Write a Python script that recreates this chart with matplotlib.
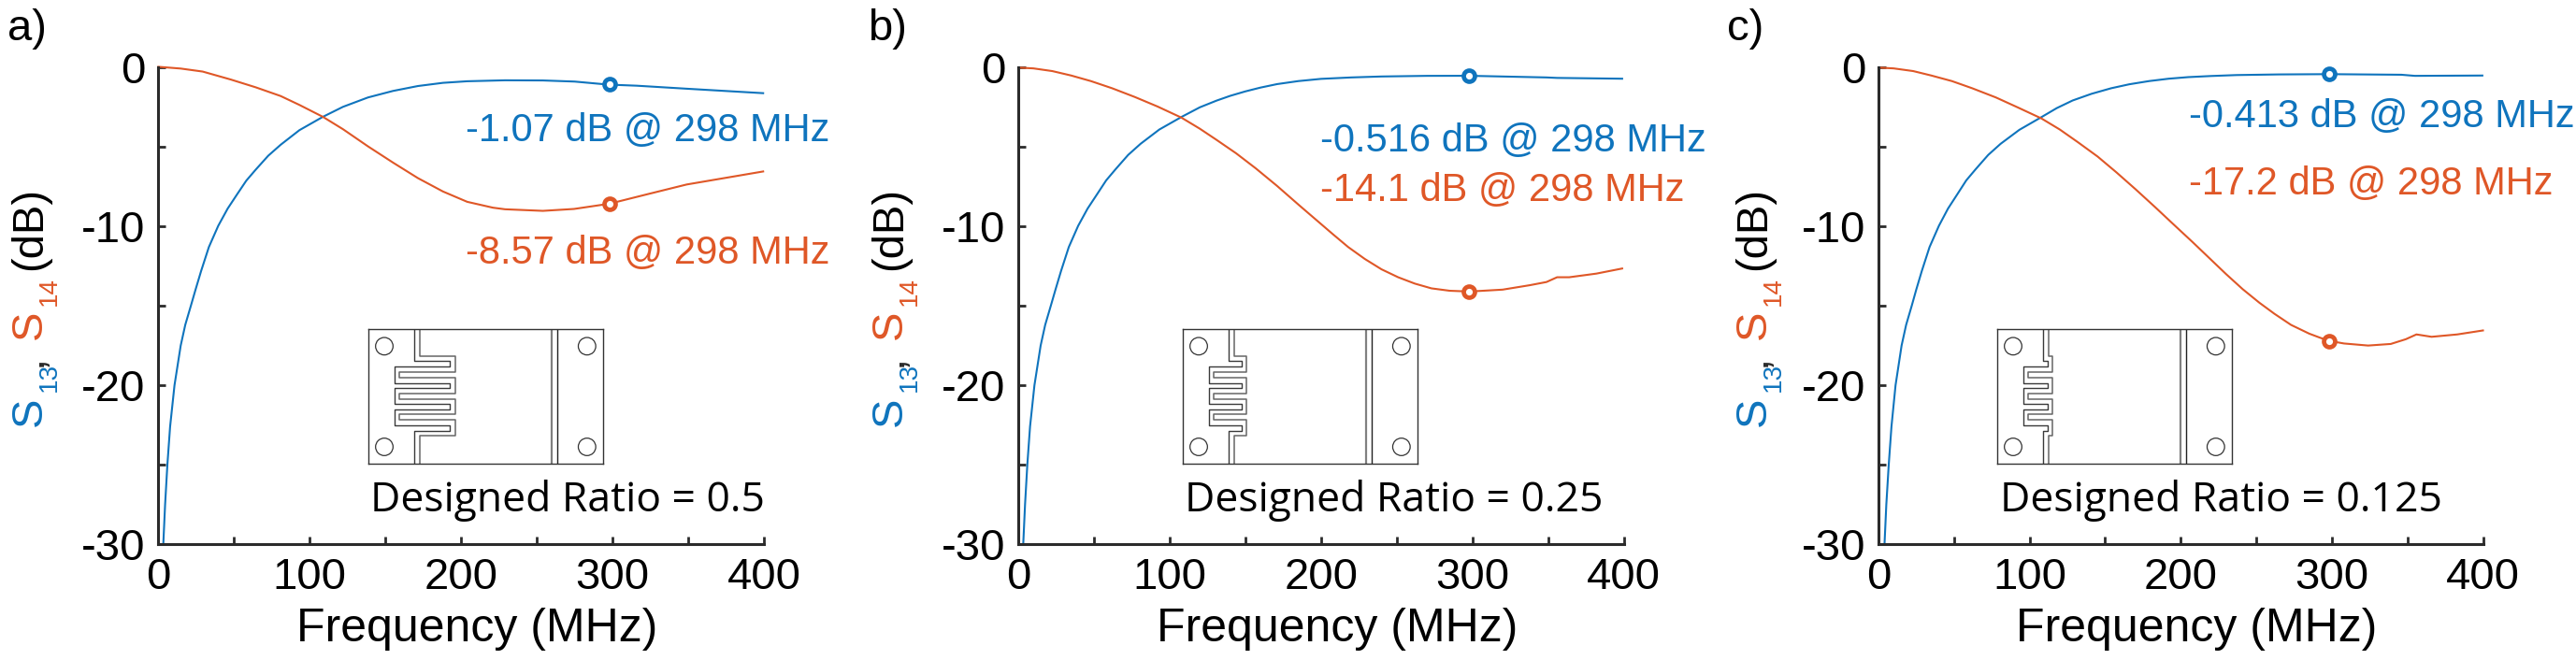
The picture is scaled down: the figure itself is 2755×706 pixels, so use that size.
import numpy as np
import matplotlib
matplotlib.use('Agg')
import matplotlib.pyplot as plt
from matplotlib.patches import Circle

W, H = 2755, 706
BLUE = '#0F74BD'
ORANGE = '#DF5727'
DARK = '#2b2b2b'

# values (MHz, dB)
f13_a = [3.3, 4.5, 6, 7.8, 10.7, 14.8, 17.8, 21.5, 24.6, 28.3, 33.4, 39.6, 45.8, 51.9, 58.1, 64.3, 72.6, 80.8, 93.2, 108.7, 122, 138.5, 155, 171.5, 188, 204, 229, 254, 275, 297, 316, 349, 399.5]
s13_a = [-30, -27.5, -25, -22.6, -20, -17.5, -16.2, -15, -13.98, -12.8, -11.3, -9.96, -8.88, -8.0, -7.12, -6.43, -5.55, -4.86, -3.94, -3.1, -2.47, -1.88, -1.47, -1.16, -0.96, -0.86, -0.8, -0.81, -0.88, -1.07, -1.14, -1.33, -1.61]
f14_a = [0, 14.8, 29.3, 47.8, 64.3, 80.8, 93.2, 108.7, 122, 138.5, 155, 171.5, 188, 204, 221, 229, 254, 274.6, 298, 324, 349, 399.5]
s14_a = [0.05, -0.06, -0.25, -0.75, -1.24, -1.79, -2.35, -3.1, -3.88, -4.96, -5.98, -6.96, -7.8, -8.45, -8.82, -8.92, -9.02, -8.9, -8.57, -7.95, -7.36, -6.54]

f13_b = [3.3, 4.5, 6, 7.8, 10.7, 14.8, 17.8, 21.5, 24.6, 28.3, 33.4, 39.6, 45.8, 51.9, 58.1, 64.3, 72.6, 80.8, 93.2, 108, 120, 131, 140, 150, 160, 171, 185, 200, 220, 240, 270, 298, 349, 356, 399]
s13_b = [-30, -27.5, -25, -22.6, -20, -17.5, -16.2, -15, -13.98, -12.8, -11.3, -9.96, -8.88, -8.0, -7.1, -6.4, -5.5, -4.8, -3.9, -3.1, -2.5, -2.08, -1.78, -1.5, -1.26, -1.04, -0.85, -0.71, -0.62, -0.56, -0.52, -0.516, -0.62, -0.65, -0.7]
f14_b = [0, 10, 22.5, 35, 48, 62, 77, 92, 107.8, 120, 131, 144, 157, 171, 186, 197, 208, 218, 229, 240, 251, 262, 273, 285, 298, 320, 338, 349, 356, 364, 382, 399]
s14_b = [0, -0.05, -0.22, -0.5, -0.85, -1.3, -1.85, -2.45, -3.15, -3.85, -4.55, -5.4, -6.35, -7.45, -8.7, -9.6, -10.5, -11.3, -12.05, -12.7, -13.2, -13.6, -13.9, -14.05, -14.1, -13.98, -13.7, -13.5, -13.2, -13.2, -12.97, -12.65]

f13_c = [4, 5.2, 6.8, 8.6, 11.3, 15.3, 18.3, 22, 25, 28.7, 33.8, 40, 46, 52, 58.1, 64.3, 72.6, 80.8, 93.2, 107.8, 118, 128.5, 141, 154, 166, 179, 192, 205, 220, 237, 265, 298, 346, 355, 399.6]
s13_c = [-30, -27.5, -25, -22.6, -20, -17.5, -16.2, -15, -13.98, -12.8, -11.3, -9.96, -8.88, -8.0, -7.1, -6.4, -5.5, -4.8, -3.92, -3.12, -2.55, -2.07, -1.65, -1.3, -1.05, -0.85, -0.7, -0.6, -0.53, -0.47, -0.43, -0.413, -0.45, -0.52, -0.5]
f14_c = [0, 10, 23, 35, 48.6, 62, 77.7, 92, 107.8, 120, 132, 145, 157.5, 170, 183, 195, 208, 219, 230, 241, 252, 262, 273, 285, 292, 298, 308, 324, 339, 349, 356, 366, 383, 400]
s14_c = [0, -0.05, -0.22, -0.5, -0.85, -1.3, -1.88, -2.5, -3.2, -3.9, -4.7, -5.6, -6.6, -7.65, -8.78, -9.85, -11, -12, -13, -13.95, -14.8, -15.5, -16.2, -16.75, -17.0, -17.2, -17.37, -17.5, -17.4, -17.1, -16.8, -16.95, -16.8, -16.55]

marker_f = 298
marker_13 = [-1.07, -0.516, -0.413]
marker_14 = [-8.57, -14.1, -17.2]
ratio_labels = ['0.5', '0.25', '0.125']
panel_labels = ['a)', 'b)', 'c)']

xticks = [0, 50, 100, 150, 200, 250, 300, 350, 400]
xticklabels = ['0', '', '100', '', '200', '', '300', '', '400']
yticks = [-30, -25, -20, -15, -10, -5, 0]
yticklabels = ['-30', '', '-20', '', '-10', '', '0']

# meander outline of the small device drawing
ys_outer = [0, 103, 103, 121, 121, 173, 173, 190, 190, 241, 241, 258, 258, 309, 309, 328, 328, 432]
ys_inner = [0, 88, 88, 138, 138, 156, 156, 206, 206, 224, 224, 274, 274, 292, 292, 343, 343, 432]
finger_right = [(262, 278), (190, 205), (163, 178)]


def px_x(x):
	return x/W
def px_y(y):
	return 1 - y/H

def add_axes_px(fig, x0, x1, y0, y1):
	return fig.add_axes([px_x(x0), px_y(y1), (x1-x0)/W, (y1-y0)/H])

def meander_xs(s, l, r):
	return [s, s, r, r, l, l, r, r, l, l, r, r, l, l, r, r, s, s]

def draw_device(fig, x0, right):
	ax = add_axes_px(fig, x0, x0+250.5, 352, 496)
	ax.set_xlim(0, 751)
	ax.set_ylim(432, 0)
	ax.set_xticks([])
	ax.set_yticks([])
	for sp in ax.spines.values():
		sp.set_linewidth(1.0)
		sp.set_color('#333333')
	ax.plot(meander_xs(148, 83, right[0]), ys_outer, color='#3a3a3a', lw=1.0)
	ax.plot(meander_xs(164, 100, right[1]), ys_inner, color='#666666', lw=1.1)
	ax.plot([588, 588], [0, 432], color='#808080', lw=1.6)
	ax.plot([607, 607], [0, 432], color='#222222', lw=1.0)
	for cx in (51, 701):
		for cy in (55, 378):
			ax.add_patch(Circle((cx, cy), 28, fill=False, ec='#333333', lw=0.9))


def ylabel_parts(fig, x_off):
	size = 34
	sub = 20
	base = 44 + x_off
	subbase = 60 + x_off
	kw = dict(rotation=90, rotation_mode='anchor', ha='left', va='baseline', family='Liberation Sans')
	fig.text(px_x(base), px_y(456), 'S', color=BLUE, fontsize=size, **kw)
	fig.text(px_x(subbase), px_y(419), '13', color=BLUE, fontsize=sub, **kw)
	fig.text(px_x(base), px_y(392), ',', color=DARK, fontsize=size, **kw)
	fig.text(px_x(base), px_y(363), 'S', color=ORANGE, fontsize=size, **kw)
	fig.text(px_x(subbase), px_y(327), '14', color=ORANGE, fontsize=sub, **kw)
	fig.text(px_x(base), px_y(289), '(dB)', color='black', fontsize=size, **kw)


plt.rcParams['font.family'] = ['Liberation Sans', 'DejaVu Sans']
fig = plt.figure(figsize=(W/100, H/100), dpi=100)

left_edge = [169.3, 1089, 2009]
right_edge = [817, 1736.5, 2655.5]
device_x = [394, 1265, 2136]
ann_x = [498, 1412, 2341]
ann_y13 = [151, 162, 136]
ann_y14 = [282, 215, 208]
ratio_x = [396, 1267, 2139]
panel_x = [8, 928, 1847]
curves = [(f13_a, s13_a, f14_a, s14_a), (f13_b, s13_b, f14_b, s14_b), (f13_c, s13_c, f14_c, s14_c)]

for ii in range(3):
	ax = add_axes_px(fig, left_edge[ii], right_edge[ii], 72.3, 582)
	f13, s13, f14, s14 = curves[ii]
	ax.plot(f13, s13, color=BLUE, lw=1.5, clip_on=False)
	ax.plot(f14, s14, color=ORANGE, lw=1.5, clip_on=False)
	ax.plot([marker_f], [marker_13[ii]], 'o', ms=8.6, mfc='white', mec=BLUE, mew=3.4, clip_on=False)
	ax.plot([marker_f], [marker_14[ii]], 'o', ms=8.6, mfc='white', mec=ORANGE, mew=3.4, clip_on=False)
	ax.set_xlim(0, 400)
	ax.set_ylim(-30, 0)
	ax.set_xticks(xticks)
	ax.set_xticklabels(xticklabels)
	ax.set_yticks(yticks)
	ax.set_yticklabels(yticklabels)
	ax.tick_params(direction='in', length=5.8, width=2, color=DARK, labelsize=34, pad=10)
	ax.spines['top'].set_visible(False)
	ax.spines['right'].set_visible(False)
	ax.spines['left'].set_linewidth(2.2)
	ax.spines['bottom'].set_linewidth(2.2)
	ax.spines['left'].set_color(DARK)
	ax.spines['bottom'].set_color(DARK)

	fig.text(px_x(panel_x[ii]), px_y(43), panel_labels[ii], fontsize=34)
	fig.text(px_x((left_edge[ii]+right_edge[ii])/2+17), px_y(686), 'Frequency (MHz)', fontsize=36, ha='center')
	fig.text(px_x(ann_x[ii]), px_y(ann_y13[ii]), '%s dB @ %d MHz' % (marker_13[ii], marker_f), color=BLUE, fontsize=30)
	fig.text(px_x(ann_x[ii]), px_y(ann_y14[ii]), '%s dB @ %d MHz' % (marker_14[ii], marker_f), color=ORANGE, fontsize=30)
	fig.text(px_x(ratio_x[ii]), px_y(547), 'Designed Ratio = ' + ratio_labels[ii], fontsize=32, family='Open Sans')
	draw_device(fig, device_x[ii], finger_right[ii])
	ylabel_parts(fig, [0, 920, 1844][ii])

fig.savefig('out.png', dpi=100)
plt.close()
